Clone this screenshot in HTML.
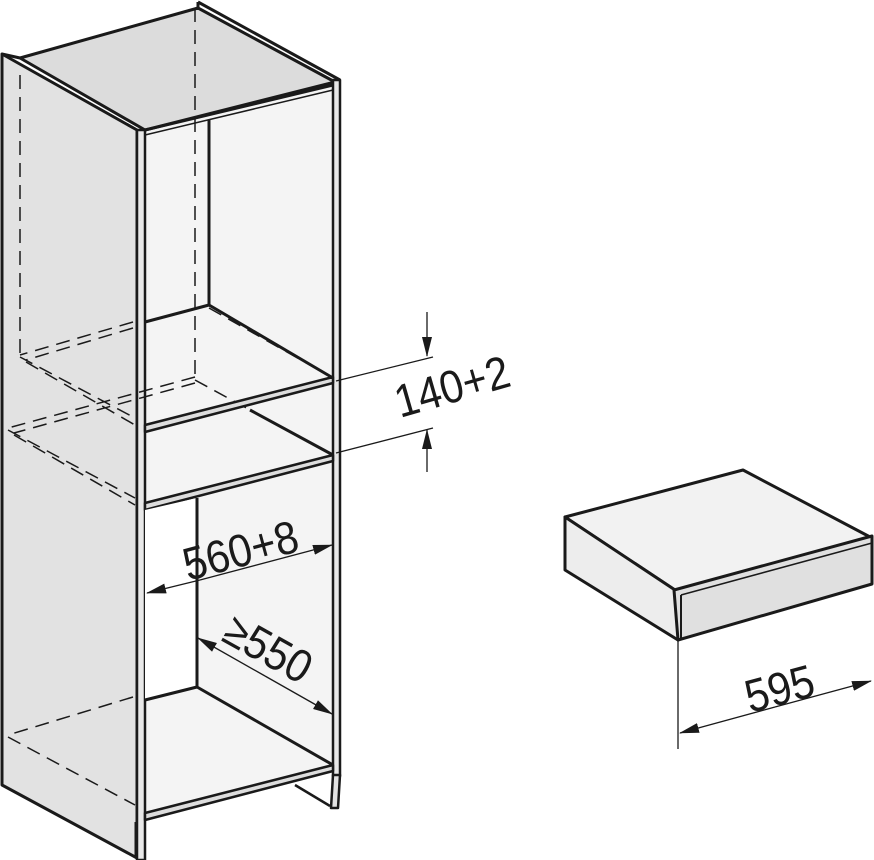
<!DOCTYPE html>
<html><head><meta charset="utf-8"><style>
html,body{margin:0;padding:0;background:#fff}
svg{display:block}
text{font-family:"Liberation Sans",sans-serif;fill:#1a1a1a}
</style></head><body>
<svg width="874" height="860" viewBox="0 0 874 860" xmlns="http://www.w3.org/2000/svg">
<defs>
<marker id="a" markerWidth="20" markerHeight="10" refX="19" refY="5" orient="auto" markerUnits="userSpaceOnUse" viewBox="0 0 20 10">
<path d="M0,0 L20,5 L0,10 z" fill="#1a1a1a"/></marker>
</defs>
<g stroke="#1a1a1a" stroke-linejoin="round">
<polygon points="145,130 335,82 335,770 145,818" fill="#f4f4f4" stroke="none"/>
<polygon points="20,58 198,8 335,82 145,130" fill="#dcdcdc" stroke-width="3"/>
<line x1="198" y1="2" x2="340" y2="80" stroke-width="3"/>
<line x1="198" y1="2" x2="198" y2="10" stroke-width="3"/>
<polygon points="2,54 137,130 137,858 2,785" fill="#e2e2e2" stroke-width="3"/>
<line x1="2" y1="54" x2="20" y2="58" stroke-width="3"/>
<rect x="137" y="130" width="8" height="730" fill="#e8e8e8" stroke-width="2.5"/>
<rect x="333" y="80" width="7" height="696" fill="#e8e8e8" stroke-width="2.5"/>
<line x1="145" y1="130" x2="333" y2="85" stroke-width="3"/>
<line x1="145" y1="135" x2="333" y2="90" stroke-width="1.5"/>
<line x1="209" y1="120" x2="209" y2="305" stroke-width="3"/>
<g fill="none" stroke-width="1.5" stroke-dasharray="14,8">
<line x1="195" y1="8" x2="195" y2="378"/>
<line x1="20" y1="75" x2="20" y2="355"/>
<line x1="133" y1="322" x2="20" y2="355"/>
<line x1="133" y1="328" x2="26" y2="360"/>
<line x1="20" y1="357" x2="135" y2="418"/>
<line x1="26" y1="362" x2="135" y2="425"/>
<line x1="209" y1="308" x2="333" y2="378"/>
<line x1="195" y1="377" x2="8" y2="428"/>
<line x1="195" y1="383" x2="14" y2="433"/>
<line x1="8" y1="430" x2="135" y2="498"/>
<line x1="14" y1="435" x2="135" y2="505"/>
<line x1="195" y1="380" x2="250" y2="410"/>
<line x1="133" y1="697" x2="8" y2="735"/>
<line x1="8" y1="737" x2="135" y2="805"/>
</g>
<line x1="145" y1="322" x2="209" y2="305" stroke-width="3"/>
<line x1="209" y1="305" x2="333" y2="378" stroke-width="3"/>
<polygon points="145,425 333,377 333,383 145,432" fill="#ddd" stroke-width="2.5"/>
<line x1="250" y1="410" x2="333" y2="455" stroke-width="3"/>
<polygon points="145,503 333,455 333,461 145,510" fill="#ddd" stroke-width="2.5"/>
<polygon points="145,510 197,498 197,687 145,700" fill="#fff" stroke="none"/>
<line x1="197" y1="498" x2="197" y2="687" stroke-width="3"/>
<line x1="145" y1="700" x2="197" y2="687" stroke-width="3"/>
<line x1="197" y1="687" x2="333" y2="765" stroke-width="3"/>
<polygon points="145,813 333,765 333,771 145,820" fill="#ddd" stroke-width="2.5"/>
<polygon points="333,775 340,775 338,808 331,808" fill="#e2e2e2" stroke-width="2.5"/>
<line x1="295" y1="785" x2="330" y2="806" stroke-width="2.5"/>
<line x1="136" y1="822" x2="136" y2="858" stroke-width="3"/>
<g stroke-width="1.3" fill="none">
<line x1="336" y1="381" x2="433" y2="357"/>
<line x1="336" y1="453" x2="433" y2="428"/>
<line x1="427" y1="312" x2="427" y2="356" marker-end="url(#a)"/>
<line x1="427" y1="472" x2="427" y2="430" marker-end="url(#a)"/>
<line x1="200" y1="580" x2="147" y2="593" marker-end="url(#a)"/>
<line x1="200" y1="580" x2="332" y2="545" marker-end="url(#a)"/>
<line x1="265" y1="676" x2="198" y2="638" marker-end="url(#a)"/>
<line x1="265" y1="676" x2="332" y2="714" marker-end="url(#a)"/>
</g>
<polygon points="565,517 743,470 872,538 678,592" fill="#f2f2f2" stroke-width="3"/>
<polygon points="565,517 678,592 678,640 565,570" fill="#ededed" stroke-width="3"/>
<polygon points="674,590 872,536 872,584 678,640" fill="#e0e0e0" stroke-width="3"/>
<line x1="681" y1="595" x2="872" y2="543" stroke-width="1.5"/>
<line x1="681" y1="595" x2="681" y2="640" stroke-width="2"/>
<g stroke-width="1.3" fill="none">
<line x1="678" y1="640" x2="678" y2="749"/>
<line x1="775" y1="707" x2="680" y2="733" marker-end="url(#a)"/>
<line x1="775" y1="707" x2="871" y2="681" marker-end="url(#a)"/>
</g>
</g>
<text x="0" y="0" font-size="44" transform="translate(400,418) rotate(-16) scale(0.95,1.05)">140+2</text>
<text x="0" y="0" font-size="44" transform="translate(188,581) rotate(-15) scale(0.95,1.05)">560+8</text>
<text x="0" y="0" font-size="44" transform="translate(220,640) rotate(29) scale(0.95,1.05)">≥550</text>
<text x="0" y="0" font-size="44" transform="translate(750,713) rotate(-15) scale(0.95,1.05)">595</text>
</svg>
</body></html>
